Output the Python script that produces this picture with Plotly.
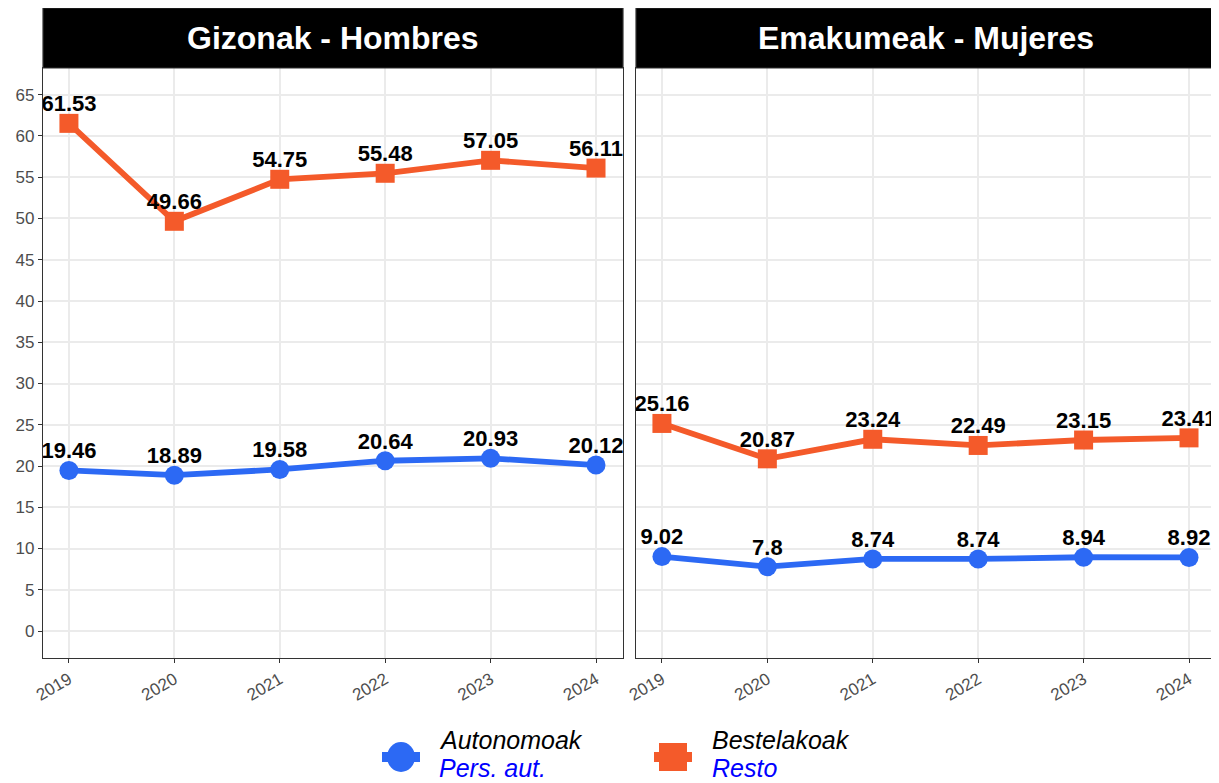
import plotly.graph_objects as go
from plotly.subplots import make_subplots

years = [2019, 2020, 2021, 2022, 2023, 2024]
panels = ["Gizonak - Hombres", "Emakumeak - Mujeres"]
autonomoak_hombres = [19.46, 18.89, 19.58, 20.64, 20.93, 20.12]
bestelakoak_hombres = [61.53, 49.66, 54.75, 55.48, 57.05, 56.11]
autonomoak_mujeres = [9.02, 7.8, 8.74, 8.74, 8.94, 8.92]
bestelakoak_mujeres = [25.16, 20.87, 23.24, 22.49, 23.15, 23.41]
legend_names = [("Autonomoak", "Pers. aut."), ("Bestelakoak", "Resto")]
y_ticks = list(range(0, 70, 5))

BLUE = "#2C69F4"
ORANGE = "#F45A2A"
OFF = 8  # page body margin
W, H = 1219 - OFF, 783 - OFF
ML, MR, MT, MB = 43 - OFF, 3, 68 - OFF, 783 - 658
PW = W - ML - MR
PH = H - MT - MB

fig = make_subplots(rows=1, cols=2, shared_yaxes=True,
                    horizontal_spacing=(637 - 624) / PW)

def fmt(v):
    return ("%g" % v)

label_font = dict(family="Arial", size=22, color="black", weight="bold")
series = [
    (1, autonomoak_hombres, bestelakoak_hombres),
    (2, autonomoak_mujeres, bestelakoak_mujeres),
]
for col, auto, rest in series:
    for vals, color, sym in ((rest, ORANGE, "square"), (auto, BLUE, "circle")):
        fig.add_trace(go.Scatter(
            x=years, y=vals, mode="lines+markers",
            line=dict(color=color, width=5.8),
            marker=dict(symbol=sym, size=19, color=color),
            cliponaxis=True, showlegend=False), row=1, col=col)
    for vals in (rest, auto):
        fig.add_trace(go.Scatter(
            x=years, y=vals, mode="markers+text",
            marker=dict(size=9, opacity=0),
            text=[fmt(v) for v in vals], textposition="top center",
            textfont=label_font, cliponaxis=True, showlegend=False,
            hoverinfo="skip"), row=1, col=col)

xrange = [2018.754, 2024.256]
yrange = [-3.27, 68.24]
for col in (1, 2):
    fig.update_xaxes(range=xrange, tickvals=years, ticktext=[str(y) for y in years],
                     tickangle=-30, ticks="outside", ticklen=4, tickcolor="#333333",
                     tickwidth=1.2,
                     tickfont=dict(family="Arial", size=17, color="#4D4D4D"),
                     showgrid=True, gridcolor="#EBEBEB", gridwidth=1.6,
                     showline=True, linecolor="#333333", linewidth=1.2, mirror=True,
                     zeroline=False, row=1, col=col)
    fig.update_yaxes(range=yrange, tickvals=y_ticks,
                     showgrid=True, gridcolor="#EBEBEB", gridwidth=1.6,
                     showline=True, linecolor="#333333", linewidth=1.2, mirror=True,
                     zeroline=False, row=1, col=col)
fig.update_yaxes(ticks="outside", ticklen=4, tickcolor="#333333", tickwidth=1.2,
                 tickfont=dict(family="Arial", size=17, color="#4D4D4D"), row=1, col=1)
fig.update_yaxes(ticks="", showticklabels=False, row=1, col=2)

# facet strips
strip_top = 1 + MT / PH
doms = [fig.layout.xaxis.domain, fig.layout.xaxis2.domain]
for dom, title in zip(doms, panels):
    fig.add_shape(type="rect", xref="paper", yref="paper",
                  x0=dom[0], x1=dom[1], y0=1, y1=strip_top,
                  fillcolor="black", line=dict(color="#333333", width=1.2))
    fig.add_annotation(xref="paper", yref="paper", x=(dom[0] + dom[1]) / 2,
                       y=(1 + strip_top) / 2, text=title, showarrow=False,
                       xanchor="center", yanchor="middle",
                       font=dict(family="Arial", size=32, color="white", weight="bold"))

# manual legend (positions given in screen pixels of the reference)
def px_x(p):
    return (p - OFF - ML) / PW

def px_y(p):
    return (H - MB - (p - OFF)) / PH

leg_items = [(401, "circle", BLUE, legend_names[0], 438),
             (673, "square", ORANGE, legend_names[1], 711)]
cy = 757
for cx, sym, color, names, tx in leg_items:
    fig.add_shape(type="line", xref="paper", yref="paper",
                  xsizemode="pixel", ysizemode="pixel",
                  xanchor=px_x(cx), yanchor=px_y(cy),
                  x0=-19, x1=19, y0=0, y1=0,
                  line=dict(color=color, width=10))
    if sym == "circle":
        fig.add_shape(type="circle", xref="paper", yref="paper",
                      xsizemode="pixel", ysizemode="pixel",
                      xanchor=px_x(cx), yanchor=px_y(cy),
                      x0=-14, x1=14, y0=-15, y1=15,
                      fillcolor=color, line=dict(width=0))
    else:
        fig.add_shape(type="rect", xref="paper", yref="paper",
                      xsizemode="pixel", ysizemode="pixel",
                      xanchor=px_x(cx), yanchor=px_y(cy),
                      x0=-14, x1=14, y0=-14, y1=14,
                      fillcolor=color, line=dict(width=0))
    fig.add_annotation(xref="paper", yref="paper", x=px_x(tx), y=px_y(740),
                       text="<i>%s</i>" % names[0], showarrow=False,
                       xanchor="left", yanchor="middle", borderpad=0,
                       font=dict(family="Arial", size=25, color="black"))
    fig.add_annotation(xref="paper", yref="paper", x=px_x(tx), y=px_y(768),
                       text="<i>%s</i>" % names[1], showarrow=False,
                       xanchor="left", yanchor="middle", borderpad=0,
                       font=dict(family="Arial", size=25, color="#0000FF"))

fig.update_layout(width=W, height=H, margin=dict(l=ML, r=MR, t=MT, b=MB),
                  plot_bgcolor="white", paper_bgcolor="white", showlegend=False)

fig.write_html("out.html")
